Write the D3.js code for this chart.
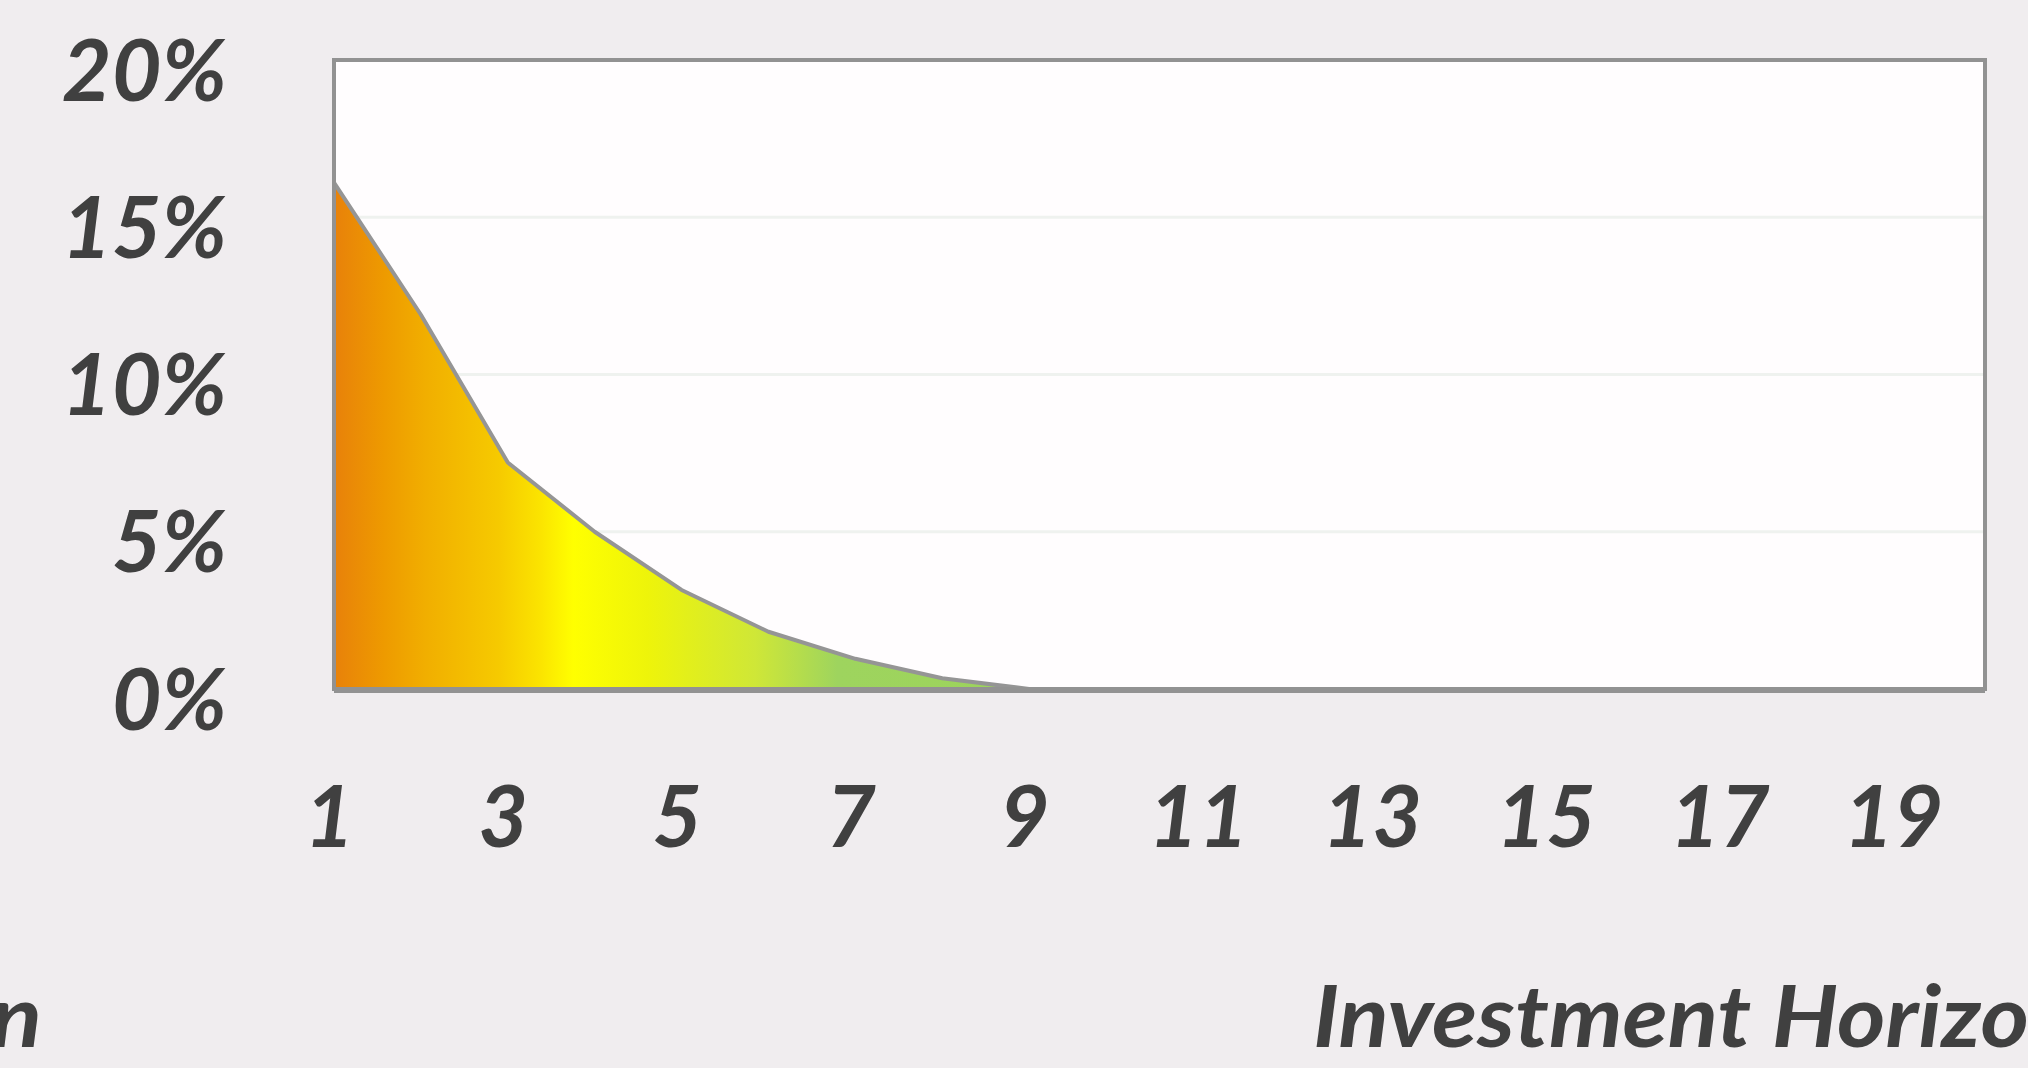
<!DOCTYPE html>
<html>
<head>
<meta charset="utf-8">
<script src="https://cdn.jsdelivr.net/npm/d3@7/dist/d3.min.js"></script>
<style>
  html, body { margin: 0; padding: 0; background: #F0EDEF; overflow: hidden; }
  svg { display: block; }
  text { font-family: Lato, "Open Sans", sans-serif; font-weight: 700; font-style: italic; fill: #404040; }
</style>
</head>
<body>
<svg id="chart" width="2028" height="1068"></svg>
<script>
// Investment horizon (years) and the probability of a loss over that horizon
const horizonYears = [1, 2, 3, 4, 5, 6, 7, 8, 9, 10, 11, 12, 13, 14, 15, 16, 17, 18, 19, 20];
const lossProbability = [0.161, 0.119, 0.072, 0.050, 0.0315, 0.0182, 0.0096, 0.0034, 0, 0,
                         0, 0, 0, 0, 0, 0, 0, 0, 0, 0];
const yTickValues = [0, 0.05, 0.10, 0.15, 0.20];
const xTickValues = [1, 3, 5, 7, 9, 11, 13, 15, 17, 19];
const axisTitle = "Investment Horizon";
const leftTitleFragment = "n";

const W = 2028, H = 1068;
const plot = { left: 334, right: 1985, top: 60, bottom: 689 };

const svg = d3.select("#chart");

const x = d3.scaleLinear().domain([horizonYears[0], horizonYears[horizonYears.length - 1]])
  .range([plot.left, plot.right]);
const y = d3.scaleLinear().domain([0, 0.20]).range([plot.bottom, plot.top]);

// background
svg.append("rect").attr("width", W).attr("height", H).attr("fill", "#F0EDEF");

// plot area
svg.append("rect")
  .attr("x", plot.left).attr("y", plot.top)
  .attr("width", plot.right - plot.left).attr("height", plot.bottom - plot.top)
  .attr("fill", "#FFFDFE");

// horizontal gridlines
svg.append("g").selectAll("line")
  .data(yTickValues.filter(v => v > 0 && v < 0.20))
  .join("line")
  .attr("x1", plot.left).attr("x2", plot.right)
  .attr("y1", d => y(d)).attr("y2", d => y(d))
  .attr("stroke", "#EFF2EF").attr("stroke-width", 3);

// horizontal colour ramp for the filled area
const defs = svg.append("defs");
const grad = defs.append("linearGradient")
  .attr("id", "rampFill")
  .attr("gradientUnits", "userSpaceOnUse")
  .attr("x1", x(1)).attr("x2", x(20)).attr("y1", 0).attr("y2", 0);
[
  [0.000, "#E8810A"],
  [0.030, "#EE9A00"],
  [0.055, "#F1AE00"],
  [0.100, "#F6CA00"],
  [0.125, "#FBE400"],
  [0.145, "#FFFF00"],
  [0.190, "#EEF40A"],
  [0.255, "#CFE737"],
  [0.305, "#9ED45E"],
  [1.000, "#92D050"]
].forEach(([o, c]) => grad.append("stop").attr("offset", o).attr("stop-color", c));

const series = horizonYears.map((h, i) => ({ h, v: lossProbability[i] }));

const area = d3.area()
  .x(d => x(d.h))
  .y0(y(0))
  .y1(d => y(d.v));

svg.append("path")
  .datum(series)
  .attr("d", area)
  .attr("fill", "url(#rampFill)")
  .attr("stroke", "#959595")
  .attr("stroke-width", 4)
  .attr("stroke-linejoin", "round");

// plot frame
svg.append("rect")
  .attr("x", plot.left).attr("y", plot.top)
  .attr("width", plot.right - plot.left).attr("height", plot.bottom - plot.top)
  .attr("fill", "none")
  .attr("stroke", "#929292").attr("stroke-width", 4);

// thicker baseline where the series outline runs along zero
svg.append("line")
  .attr("x1", plot.left).attr("x2", plot.right)
  .attr("y1", y(0) + 1).attr("y2", y(0) + 1)
  .attr("stroke", "#929292").attr("stroke-width", 6);

// y axis labels
const yAxis = d3.axisLeft(y).tickValues(yTickValues).tickFormat(d3.format(".0%")).tickSize(0).tickPadding(0);
const gy = svg.append("g").attr("transform", "translate(227,0)").call(yAxis);
gy.select(".domain").remove();
gy.selectAll("text")
  .attr("font-size", 86).attr("dy", 40).attr("x", 0)
  .attr("text-anchor", "end")
  .style("font-family", "Lato, 'Open Sans', sans-serif")
  .style("font-weight", 700).style("font-style", "italic").attr("fill", "#404040");

// x axis labels
const xAxis = d3.axisBottom(x).tickValues(xTickValues).tickFormat(d3.format("d")).tickSize(0).tickPadding(0);
const gx = svg.append("g").attr("transform", "translate(-5,847)").call(xAxis);
gx.select(".domain").remove();
gx.selectAll("text")
  .attr("font-size", 86).attr("dy", 0).attr("y", 0)
  .style("font-family", "Lato, 'Open Sans', sans-serif")
  .style("font-weight", 700).style("font-style", "italic").attr("fill", "#404040");

// axis titles along the bottom edge, running past the canvas edges
svg.append("text")
  .attr("transform", "translate(1313,1047) scale(1.08,1)")
  .attr("font-size", 86)
  .text(axisTitle);

svg.append("text")
  .attr("transform", "translate(42,1047) scale(1.1,1)")
  .attr("text-anchor", "end")
  .attr("font-size", 86)
  .text(leftTitleFragment);
</script>
</body>
</html>
